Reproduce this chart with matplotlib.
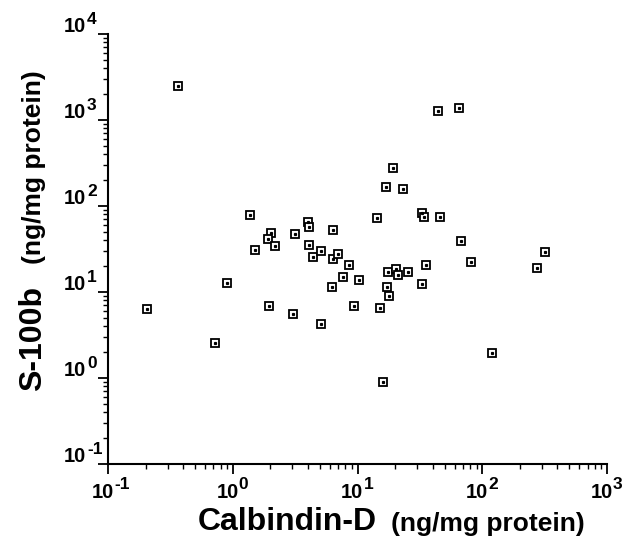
import matplotlib
matplotlib.use("Agg")
import matplotlib.pyplot as plt
from matplotlib.ticker import LogLocator, NullFormatter

plt.rcParams['font.family'] = ['Liberation Sans', 'DejaVu Sans']

# calbindin-D (x) and S-100b (y), ng/mg protein
calbindin = [0.364, 1.37, 1.51, 2.02, 1.91, 2.18, 3.15, 4.0, 4.07, 4.07,
             4.4, 44, 65, 19.2, 16.9, 23.1, 14.3, 32.8, 34, 45.7,
             6.35, 67.5, 316, 5.1, 6.36, 6.97, 8.5, 35.3, 81, 273,
             17.5, 20.3, 21.1, 25.4, 7.64, 10.3, 6.24, 17.2, 17.9, 32.8,
             9.36, 15.1, 5.1, 119, 16.0, 0.205, 0.90, 0.72, 1.95, 3.03]
s100b = [2480, 78.5, 30.8, 48.5, 41.3, 34.3, 47.2, 65, 57, 35,
         25.5, 1273, 1380, 277, 166, 158, 72, 83, 74.5, 74.5,
         52.6, 39, 29, 30, 24.2, 27.7, 20.6, 20.6, 22.3, 19,
         17.1, 18.5, 15.8, 17.1, 14.9, 13.8, 11.4, 11.4, 8.98, 12.4,
         6.87, 6.5, 4.25, 1.95, 0.90, 6.34, 12.7, 2.55, 6.87, 5.55]

x_exps = [-1, 0, 1, 2, 3]
y_exps = [-1, 0, 1, 2, 3, 4]

fig = plt.figure(figsize=(6.25, 5.39), dpi=100)
ax = fig.add_axes([108/625, 75/539, 499/625, 430/539])

ax.plot(calbindin, s100b, ls='none', marker='s', ms=5.5, mfc='white',
        mec='black', mew=1.3)
ax.plot(calbindin, s100b, ls='none', marker='s', ms=1.3, color='black')

ax.set_xscale('log')
ax.set_yscale('log')
ax.set_xlim(0.1, 1000)
ax.set_ylim(0.1, 10000)

for s in ['top', 'right']:
    ax.spines[s].set_visible(False)
for s in ['left', 'bottom']:
    ax.spines[s].set_linewidth(1.5)

for a in [ax.xaxis, ax.yaxis]:
    a.set_major_locator(LogLocator(base=10, numticks=10))
    a.set_minor_locator(LogLocator(base=10, subs=range(2, 10), numticks=10))
    a.set_major_formatter(NullFormatter())
    a.set_minor_formatter(NullFormatter())

ax.tick_params(which='major', direction='out', length=7, width=1.3)
ax.tick_params(which='minor', direction='out', length=3.5, width=1.0)

# tick labels drawn by hand: big superscripts like the original
px = 0.72  # points per pixel at dpi 100
for e in x_exps:
    ax.annotate('10', xy=(10.0**e, 0), xycoords=('data', 'axes fraction'),
                xytext=(6*px, -34*px), textcoords='offset points',
                ha='right', va='baseline', fontsize=14.5, fontweight='bold')
    ax.annotate(str(e), xy=(10.0**e, 0), xycoords=('data', 'axes fraction'),
                xytext=(6*px, -25*px), textcoords='offset points',
                ha='left', va='baseline', fontsize=12.5, fontweight='bold')
for e in y_exps:
    ax.annotate('10', xy=(0, 10.0**e), xycoords=('axes fraction', 'data'),
                xytext=(-44*px, 2*px), textcoords='offset points',
                ha='left', va='baseline', fontsize=14.5, fontweight='bold')
    ax.annotate(str(e), xy=(0, 10.0**e), xycoords=('axes fraction', 'data'),
                xytext=(-21*px, 10*px), textcoords='offset points',
                ha='left', va='baseline', fontsize=12.5, fontweight='bold')

fig.text(198/625, 1 - 522/539, 'Calbindin-D', fontsize=23, fontweight='bold',
         ha='left', va='center')
fig.text(391/625, 1 - 524/539, '(ng/mg protein)', fontsize=19, fontweight='bold',
         ha='left', va='center')
fig.text(33/625, 1 - 338/539, 'S-100b', fontsize=23, fontweight='bold',
         ha='center', va='center', rotation=90)
fig.text(34/625, 1 - 167/539, '(ng/mg protein)', fontsize=19, fontweight='bold',
         ha='center', va='center', rotation=90)

fig.savefig('out.png', dpi=100)
